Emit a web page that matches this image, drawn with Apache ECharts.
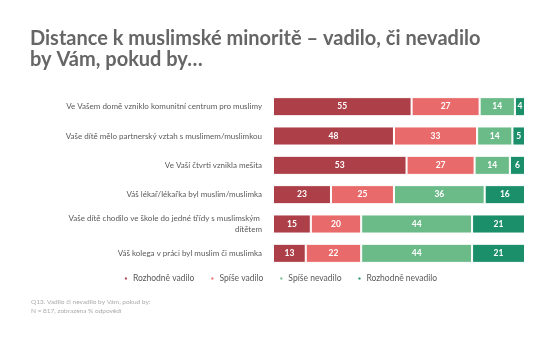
<!DOCTYPE html>
<html><head><meta charset="utf-8">
<script src="https://cdn.jsdelivr.net/npm/echarts@6/dist/echarts.min.js"></script>
<style>html,body{margin:0;padding:0;background:#fff}#c{width:560px;height:361px}</style>
</head><body><div id="c"></div>
<script>
const categories = [
  "Ve Vašem domě vzniklo komunitní centrum pro muslimy",
  "Vaše dítě mělo partnerský vztah s muslimem/muslimkou",
  "Ve Vaší čtvrti vznikla mešita",
  "Váš lékař/lékařka byl muslim/muslimka",
  "Vaše dítě chodilo ve škole do jedné třídy s muslimským dítětem",
  "Váš kolega v práci byl muslim či muslimka"
];
const seriesNames = ["Rozhodně vadilo", "Spíše vadilo", "Spíše nevadilo", "Rozhodně nevadilo"];
const rozhodneVadilo = [55, 48, 53, 23, 15, 13];
const spiseVadilo = [27, 33, 27, 25, 20, 22];
const spiseNevadilo = [14, 14, 14, 36, 44, 44];
const rozhodneNevadilo = [4, 5, 6, 16, 21, 21];
const colors = ["#AD3F48", "#E96A6A", "#6BBB88", "#1B8F6A"];
const values = [rozhodneVadilo, spiseVadilo, spiseNevadilo, rozhodneNevadilo];

const chart = echarts.init(document.getElementById('c'), null, {renderer: 'canvas'});
const font = 'Lato, "Open Sans", sans-serif';
chart.setOption({
  animation: false,
  textStyle: {fontFamily: font},
  title: {
    text: "Distance k muslimské minoritě – vadilo, či nevadilo\nby Vám, pokud by…",
    left: 30, top: 28, padding: 0,
    textStyle: {fontFamily: font, fontSize: 20, fontWeight: 'bold', color: '#666666', lineHeight: 21}
  },
  legend: {
    data: seriesNames,
    top: 269, left: 'center',
    icon: 'rect', itemWidth: 4, itemHeight: 4, itemGap: 15,
    textStyle: {fontSize: 8.5, color: '#595959', fontFamily: font}
  },
  grid: {left: 273, right: 35, top: 92, bottom: 93, containLabel: false},
  xAxis: {type: 'value', min: 0, max: 100, show: false},
  yAxis: {
    type: 'category', data: categories, inverse: true,
    axisLine: {show: false}, axisTick: {show: false},
    axisLabel: {
      fontSize: 8, color: '#595959', margin: 11, width: 236, overflow: 'break',
      align: 'right', lineHeight: 11, fontFamily: font
    }
  },
  series: values.map((v, i) => ({
    name: seriesNames[i], type: 'bar', stack: 'total', data: v,
    barCategoryGap: '35%',
    itemStyle: {color: colors[i], borderColor: '#ffffff', borderWidth: 1},
    label: {show: true, position: 'inside', color: '#ffffff', fontWeight: 'bold', fontSize: 8.5, fontFamily: font}
  })),
  graphic: [{
    type: 'text', left: 31, top: 297,
    style: {text: "Q13. Vadilo či nevadilo by Vám, pokud by:\nN = 817, zobrazena % odpovědí", fontSize: 6.5, lineHeight: 9.5, fill: '#ABABAB', fontFamily: font}
  }]
});
</script></body></html>
